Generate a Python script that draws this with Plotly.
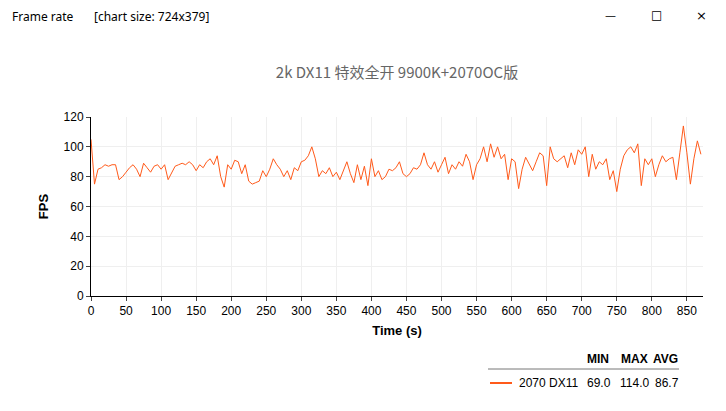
import plotly.graph_objects as go

times = list(range(0, 875, 5))
fps = [105, 75, 85, 86, 88, 87, 88, 88, 78, 80, 83, 86, 88, 85, 80, 89, 86, 83, 87, 88,
       85, 88, 78, 83, 87, 88, 89, 88, 90, 88, 84, 88, 86, 90, 92, 88, 94, 80, 73, 88,
       85, 91, 90, 82, 88, 77, 75, 76, 77, 84, 80, 85, 92, 88, 85, 80, 84, 78, 86, 84,
       90, 91, 94, 100, 92, 80, 84, 82, 86, 80, 83, 78, 84, 90, 82, 76, 88, 78, 87, 74,
       92, 80, 84, 78, 80, 85, 84, 86, 90, 82, 80, 82, 86, 85, 88, 96, 88, 85, 90, 83,
       88, 93, 82, 88, 85, 90, 87, 95, 90, 78, 88, 92, 100, 90, 102, 93, 100, 92, 95, 78,
       92, 90, 72, 85, 93, 88, 84, 90, 96, 94, 74, 100, 92, 90, 92, 94, 86, 96, 88, 98,
       95, 100, 80, 95, 85, 90, 88, 92, 78, 84, 70, 85, 94, 98, 100, 96, 102, 74, 92, 88,
       92, 80, 88, 94, 90, 92, 93, 78, 96, 114, 96, 75, 92, 104, 95]
times = times[:len(fps)]
series_name = "2070 DX11"
stats_hdr = ["MIN", "MAX", "AVG"]
stats_val = ["69.0", "114.0", "86.7"]
color = "#ff5a1a"

OFF = 8  # page body margin
W, H = 726 - OFF, 411 - OFF
L, R, T, B = 91 - OFF, 23, 117 - OFF, 115
PW, PH = W - L - R, H - T - B
def PX(x): return (x - OFF - L) / PW
def PY(y): return (H - B - (y - OFF)) / PH

fig = go.Figure(go.Scatter(x=times, y=fps, mode="lines", line=dict(color=color, width=1), showlegend=False))
F = "Liberation Sans, Arial, sans-serif"
fig.update_layout(
    width=W, height=H, margin=dict(l=L, r=R, t=T, b=B, autoexpand=False),
    paper_bgcolor="white", plot_bgcolor="white",
    font=dict(family=F, size=12, color="black"),
    title=dict(text="2k DX11 特效全开 9900K+2070OC版", x=0.5, xanchor="center", xref="paper", y=1-(73-OFF)/H, yanchor="middle",
               font=dict(family="Noto Sans CJK SC, " + F, size=15, color="#666")),
    xaxis=dict(range=[0, 873], tickvals=list(range(0, 851, 50)), showgrid=True, gridcolor="#efefef",
               showline=True, linecolor="black", ticks="outside", ticklen=4, zeroline=False, automargin=False,
               title=dict(text="<b>Time (s)</b>", font=dict(size=13), standoff=8)),
    yaxis=dict(range=[0, 120], dtick=20, showgrid=True, gridcolor="#efefef", showline=True, linecolor="black",
               ticks="outside", ticklen=4, zeroline=False, automargin=False,
               title=dict(text="<b>FPS</b>", font=dict(size=13), standoff=12)),
)
ann = [
    dict(text="Frame rate", x=10, y=16, a="left"),
    dict(text="[chart size: 724x379]", x=92, y=16, a="left"),
    dict(text="—", x=610, y=15, a="center", size=11),
    dict(text="□", x=656, y=15, a="center", size=12),
    dict(text="×", x=701, y=15, a="center", size=13),
]
for a in ann:
    fig.add_annotation(text=a["text"], x=PX(a["x"]), y=PY(a["y"]), xref="paper", yref="paper",
                       xanchor=a["a"], yanchor="middle", showarrow=False,
                       font=dict(family="DejaVu Sans, Noto Sans, " + F if a["a"] == "center" else "Noto Sans, " + F,
                                 size=a.get("size", 12), color="black"))
for t, xx in zip(stats_hdr, [585, 619, 651]):
    fig.add_annotation(text="<b>"+t+"</b>", x=PX(xx), y=PY(359), xref="paper", yref="paper",
                       xanchor="left", yanchor="middle", showarrow=False, font=dict(size=12))
fig.add_annotation(text=series_name, x=PX(517), y=PY(383), xref="paper", yref="paper",
                   xanchor="left", yanchor="middle", showarrow=False, font=dict(size=12))
for t, xx in zip(stats_val, [585, 618, 653]):
    fig.add_annotation(text=t, x=PX(xx), y=PY(383), xref="paper", yref="paper",
                       xanchor="left", yanchor="middle", showarrow=False, font=dict(size=12))
def line(x0, y0, x1, y1, **kw):
    fig.add_shape(type="line", xref="paper", yref="paper", x0=PX(x0), x1=PX(x1), y0=PY(y0), y1=PY(y1), **kw)
line(488, 369, 679, 369, line=dict(color="#777", width=1))
line(490, 383, 512, 383, line=dict(color=color, width=2))
fig.write_html("out.html")
